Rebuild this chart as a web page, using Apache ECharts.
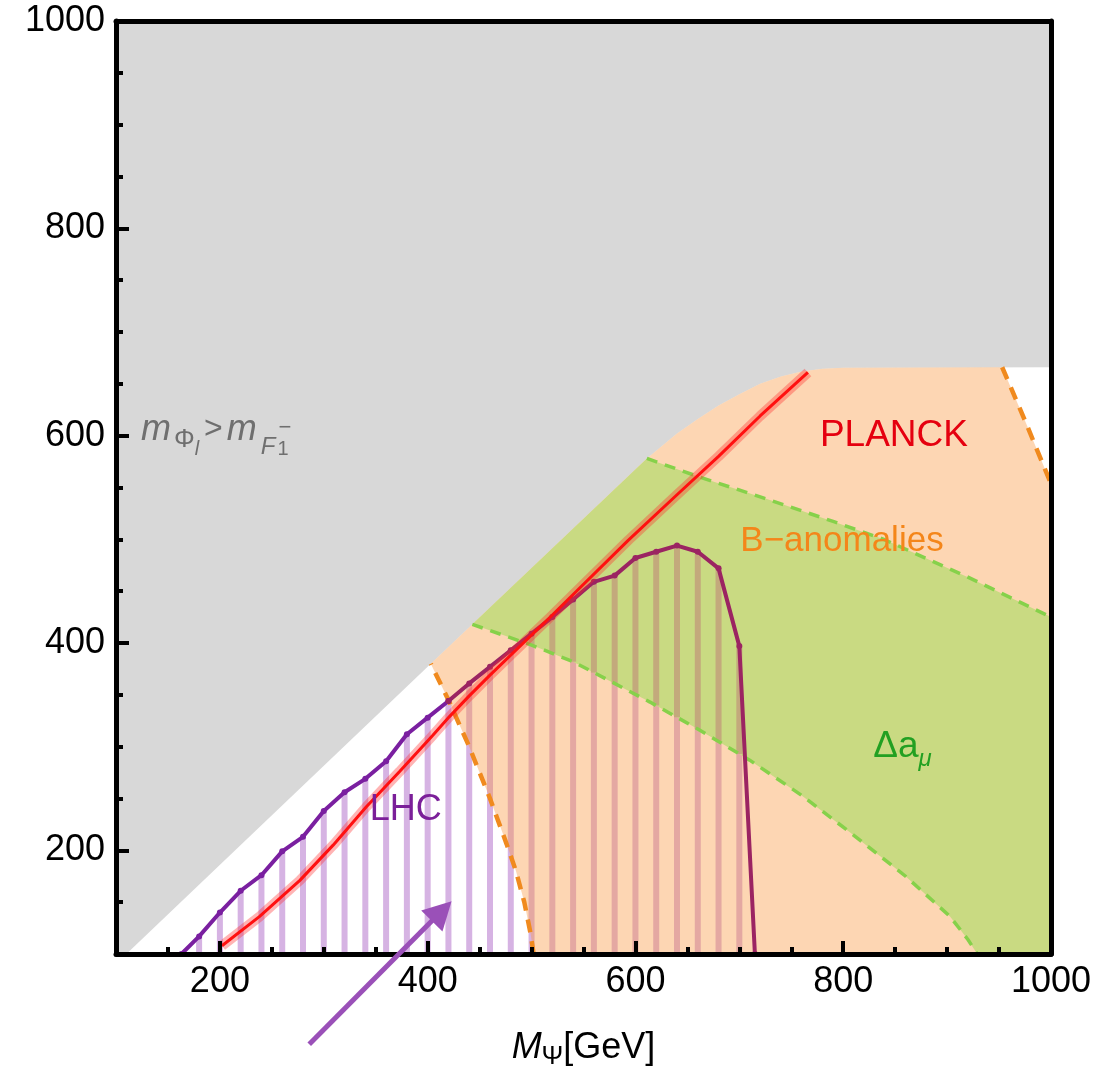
<!DOCTYPE html>
<html><head><meta charset="utf-8">
<script src="https://cdn.jsdelivr.net/npm/echarts@6/dist/echarts.min.js"></script>
<style>html,body{margin:0;padding:0;background:#fff}#c{width:1119px;height:1070px}</style>
</head><body><div id="c"></div>
<script>
// ---------- data ----------
const xMajorTicks = [200, 400, 600, 800, 1000];
const yMajorTicks = [200, 400, 600, 800, 1000];

// boundary of the grey excluded region (m_Phi > m_F)
const grayBoundX = [110, 403, 611, 640, 660, 680, 700, 720, 740, 760, 780, 800, 1000];
const grayBoundY = [100, 380, 578, 602, 616, 629, 640, 650, 657, 662, 664.5, 665.5, 666];

// B-anomalies dashed boundaries
const bLeftX = [502, 499, 493, 485, 476, 460, 440, 420, 403];
const bLeftY = [100, 120, 150, 180, 206, 250, 300, 345, 380];
const bRightX = [953, 976, 999];
const bRightY = [666, 612, 556];

// Delta a_mu band
const gLowX = [443, 500, 540, 578, 614, 660, 710, 760, 807, 860, 903, 920, 929];
const gLowY = [418, 398, 382, 362, 343, 317, 287, 253, 217, 175, 136, 114, 100];
const gUpX = [611, 662, 723, 791, 839, 919, 1000];
const gUpY = [578, 560, 540, 517, 500, 464, 425];

// PLANCK relic density line
const redX = [202, 238, 277, 309, 341, 373, 405, 421, 440, 460, 520, 593, 640, 680, 720, 766];
const redY = [108, 136, 171, 205, 242, 276, 311, 329, 349, 369, 427, 499, 543, 580, 619, 661];

// LHC exclusion curve
const lhcX = [163, 180, 200, 220, 240, 260, 280, 300, 320, 340, 360, 380, 400, 420, 440, 460, 480, 500, 520, 540, 560, 580, 600, 620, 640, 660, 680, 700, 715];
const lhcY = [100, 117, 140, 161, 176, 199, 213, 238, 256, 269, 286, 312, 328, 344, 361, 377, 393, 409, 425, 442, 459, 465, 482, 488, 494, 488, 472, 397, 100];
const lhcColourSplit = 420;

// ---------- helpers ----------
const zip = (xs, ys) => xs.map((x, i) => [x, ys[i]]);
function interp(xs, ys, x) {
  for (let i = 0; i < xs.length - 1; i++) {
    if (x >= xs[i] && x <= xs[i + 1]) return ys[i] + (ys[i + 1] - ys[i]) * (x - xs[i]) / (xs[i + 1] - xs[i]);
  }
  return null;
}
const FONT = "'Liberation Sans', Arial, sans-serif";

const grayPts = zip(grayBoundX, grayBoundY);
const grayPoly = [[100, 100]].concat(grayPts, [[1000, 1000], [100, 1000]]);
const orangePoly = zip(bLeftX, bLeftY)
  .concat(grayPts.filter(p => p[0] > 403 && p[0] < 953))
  .concat(zip(bRightX, bRightY))
  .concat([[1000, 556], [1000, 100]]);
const greenPoly = zip(gLowX, gLowY)
  .concat([[1000, 100]])
  .concat(zip(gUpX, gUpY).reverse())
  .concat(grayPts.filter(p => p[0] > 443 && p[0] < 611).reverse());

const hatchX = lhcX.slice(1, -1);
const hatchTop = lhcY.slice(1, -1);
const hatchData = hatchX.map((x, i) => [x, 100, hatchTop[i]]);
const tanData = hatchX.map((x, i) => {
  if (x < gLowX[0] || x > gLowX[gLowX.length - 1]) return null;
  const lo = interp(gLowX, gLowY, x);
  const top = x < gUpX[0] ? interp(grayBoundX, grayBoundY, x) : interp(gUpX, gUpY, x);
  const hi = Math.min(hatchTop[i], top);
  return hi > lo ? [x, lo, hi] : null;
}).filter(Boolean);

function polySeries(pts, fill, z) {
  return {
    type: 'custom', z: z, silent: true, clip: true, data: pts,
    encode: { x: 0, y: 1 },
    renderItem: (params, api) => {
      if (params.dataIndex !== 0) return null;
      return { type: 'polygon', shape: { points: pts.map(p => api.coord(p)) }, style: { fill: fill } };
    }
  };
}
function hatchSeries(data, fill, z) {
  return {
    type: 'custom', z: z, silent: true, clip: true, data: data,
    encode: { x: 0, y: [1, 2] },
    renderItem: (params, api) => {
      const x = api.value(0);
      const p0 = api.coord([x, api.value(1)]);
      const p1 = api.coord([x, api.value(2)]);
      return { type: 'rect', shape: { x: p0[0] - 3, y: p1[1], width: 6, height: p0[1] - p1[1] }, style: { fill: fill } };
    }
  };
}
function lineSeries(data, color, width, type, z) {
  return {
    type: 'line', z: z, silent: true, data: data, showSymbol: false, symbol: 'none',
    lineStyle: { color: color, width: width, type: type }, clip: true
  };
}
function lhcSeries(data, color) {
  return {
    type: 'line', z: 7, silent: true, data: data, symbol: 'circle', symbolSize: 6, showSymbol: true,
    itemStyle: { color: color }, lineStyle: { color: color, width: 4 }, clip: true
  };
}

// text annotations
const GREY = '#6f6f6f';
const annotations = [
  { value: [124, 605.9], text: '{it|m}{s1|Φ}{s2|l}{op|>}{it|m}{s3|F}{s4|1}', color: GREY, align: 'left',
    rich: {
      it: { fontSize: 36, fontStyle: 'italic', lineHeight: 60, color: GREY, fontFamily: FONT },
      op: { fontSize: 32, lineHeight: 60, color: GREY, fontFamily: FONT, padding: [0, 4, 0, 5] },
      s1: { fontSize: 26, lineHeight: 26, verticalAlign: 'bottom', padding: [0, 0, 7, 3], color: GREY, fontFamily: FONT },
      s2: { fontSize: 20, fontStyle: 'italic', lineHeight: 20, verticalAlign: 'bottom', color: GREY, fontFamily: FONT },
      s3: { fontSize: 24, fontStyle: 'italic', lineHeight: 24, verticalAlign: 'bottom', padding: [0, 0, 0, 4], color: GREY, fontFamily: FONT },
      s4: { fontSize: 20, lineHeight: 20, verticalAlign: 'bottom', padding: [0, 0, 0, 2], color: GREY, fontFamily: FONT }
    } },
  { value: [262.7, 607.5], text: '−', color: GREY, fontSize: 22, align: 'center' },
  { value: [848.8, 599.5], text: 'PLANCK', color: '#e5000f', fontSize: 37, align: 'center' },
  { value: [798.8, 497.6], text: 'B−anomalies', color: '#f4861a', fontSize: 35, align: 'center' },
  { value: [378.8, 238.9], text: 'LHC', color: '#7b1f99', fontSize: 36, align: 'center' },
  { value: [828.9, 300], text: '{n|Δa}{s|μ}', color: '#22a022', align: 'left',
    rich: {
      n: { fontSize: 37, lineHeight: 50, color: '#22a022', fontFamily: FONT },
      s: { fontSize: 24, fontStyle: 'italic', lineHeight: 24, verticalAlign: 'bottom', color: '#22a022', fontFamily: FONT }
    } }
];

const arrowTail = [286, 13];
const arrowHead = [423, 151];

// ---------- series ----------
const lhcPts = zip(lhcX, lhcY);
const series = [];
series.push(polySeries(grayPoly, '#d8d8d8', 1));
series.push(hatchSeries(hatchData, '#d6b3e3', 2));
series.push(polySeries(orangePoly, 'rgba(250,152,65,0.4)', 3));
series.push(polySeries(greenPoly, '#c9da82', 4));
series.push(hatchSeries(tanData, '#c3a97c', 5));
series.push(lineSeries(zip(bLeftX, bLeftY), '#f08a1e', 4.5, [13, 9], 6));
series.push(lineSeries(zip(bRightX, bRightY), '#f08a1e', 4.5, [13, 9], 6));
series.push(lineSeries(zip(gLowX, gLowY), '#86d14a', 3.5, [11, 8], 6));
series.push(lineSeries(zip(gUpX, gUpY), '#86d14a', 3.5, [11, 8], 6));
series.push(lhcSeries(lhcPts.filter(p => p[0] <= lhcColourSplit), '#7a1fa0'));
series.push(lhcSeries(lhcPts.filter(p => p[0] >= lhcColourSplit), '#9b2462'));
series.push(lineSeries(zip(redX, redY), 'rgba(255,40,40,0.35)', 10, 'solid', 8));
series.push(lineSeries(zip(redX, redY), '#ff1010', 3, 'solid', 8));
series.push({
  type: 'scatter', z: 9, silent: true, symbolSize: 1, itemStyle: { color: 'rgba(0,0,0,0)', opacity: 1 },
  data: annotations.map(a => ({
    value: a.value,
    label: {
      show: true, position: 'inside', formatter: a.text, color: a.color, fontSize: a.fontSize || 34,
      fontFamily: FONT, align: a.align, verticalAlign: 'middle', rich: a.rich || {},
      textBorderWidth: 0, opacity: 1
    }
  }))
});

const axisFont = { fontSize: 36, color: '#000', fontFamily: FONT, formatter: v => String(v) };
const option = {
  animation: false,
  backgroundColor: '#fff',
  grid: { left: 116, right: 68, top: 21, bottom: 116, containLabel: false, outerBoundsMode: 'none' },
  xAxis: [
    {
      type: 'value', min: 100, max: 1000, position: 'bottom', z: 10,
      axisLine: { show: true, onZero: false, lineStyle: { color: '#000', width: 5 } },
      axisTick: { show: true, inside: true, length: 13, customValues: xMajorTicks, lineStyle: { color: '#000', width: 4 } },
      axisLabel: Object.assign({ customValues: xMajorTicks, margin: 10 }, axisFont),
      splitLine: { show: false },
      name: '{it|M}{s|Ψ}[GeV]', nameLocation: 'middle', nameGap: 72,
      nameTextStyle: {
        fontSize: 36, color: '#000', fontFamily: FONT, lineHeight: 44,
        rich: {
          it: { fontSize: 36, fontStyle: 'italic', lineHeight: 44, color: '#000', fontFamily: FONT },
          s: { fontSize: 26, lineHeight: 26, verticalAlign: 'bottom', color: '#000', fontFamily: FONT }
        }
      }
    },
    {
      type: 'value', min: 100, max: 1000, interval: 50, position: 'bottom', z: 10,
      axisLine: { show: false, onZero: false },
      axisTick: { show: true, inside: true, length: 7, lineStyle: { color: '#000', width: 4 } },
      axisLabel: { show: false }, splitLine: { show: false }
    },
    {
      type: 'value', min: 100, max: 1000, position: 'top', z: 10,
      axisLine: { show: true, onZero: false, lineStyle: { color: '#000', width: 5 } },
      axisTick: { show: false }, axisLabel: { show: false }, splitLine: { show: false }
    }
  ],
  yAxis: [
    {
      type: 'value', min: 100, max: 1000, position: 'left', z: 10,
      axisLine: { show: true, onZero: false, lineStyle: { color: '#000', width: 5 } },
      axisTick: { show: true, inside: true, length: 13, customValues: yMajorTicks, lineStyle: { color: '#000', width: 4 } },
      axisLabel: Object.assign({ customValues: yMajorTicks, margin: 11 }, axisFont),
      splitLine: { show: false }
    },
    {
      type: 'value', min: 100, max: 1000, interval: 50, position: 'left', z: 10,
      axisLine: { show: false, onZero: false },
      axisTick: { show: true, inside: true, length: 7, lineStyle: { color: '#000', width: 4 } },
      axisLabel: { show: false }, splitLine: { show: false }
    },
    {
      type: 'value', min: 100, max: 1000, position: 'right', z: 10,
      axisLine: { show: true, onZero: false, lineStyle: { color: '#000', width: 5 } },
      axisTick: { show: false }, axisLabel: { show: false }, splitLine: { show: false }
    }
  ],
  series: series.map(s => Object.assign({ xAxisIndex: 0, yAxisIndex: 0 }, s))
};

const chart = echarts.init(document.getElementById('c'), null, { renderer: 'canvas' });
chart.setOption(option);

// annotation arrow (placed through the axes' scales)
const t = chart.convertToPixel({ xAxisIndex: 0, yAxisIndex: 0 }, arrowTail);
const h = chart.convertToPixel({ xAxisIndex: 0, yAxisIndex: 0 }, arrowHead);
const dx = h[0] - t[0], dy = h[1] - t[1], L = Math.hypot(dx, dy);
const ux = dx / L, uy = dy / L, headLen = 28, headW = 15;
const bx = h[0] - ux * headLen, by = h[1] - uy * headLen;
chart.setOption({
  graphic: [
    { type: 'line', z: 50, silent: true, shape: { x1: t[0], y1: t[1], x2: bx + ux * 2, y2: by + uy * 2 }, style: { stroke: '#9a50b8', lineWidth: 5 } },
    { type: 'polygon', z: 50, silent: true, shape: { points: [[h[0], h[1]], [bx - uy * headW, by + ux * headW], [bx + uy * headW, by - ux * headW]] }, style: { fill: '#9a50b8' } }
  ]
});
</script>
</body></html>
